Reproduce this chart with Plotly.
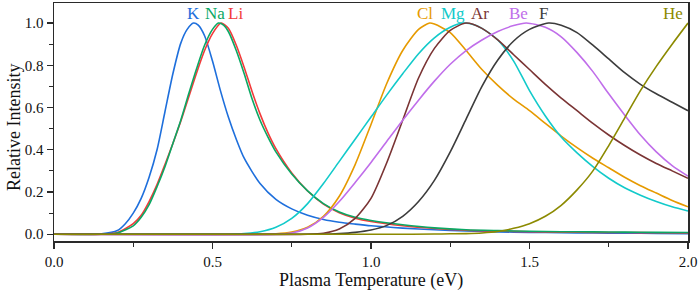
import plotly.graph_objects as go

# ---- data ----
t_k = [0.0, 0.10, 0.15, 0.20, 0.225, 0.25, 0.275, 0.30, 0.325, 0.35, 0.375, 0.40, 0.42, 0.44, 0.455, 0.475, 0.50, 0.525, 0.55, 0.575, 0.60, 0.65, 0.70, 0.75, 0.80, 0.85, 0.90, 0.95, 1.00, 1.10, 1.20, 1.30, 1.40, 1.50, 1.60, 1.70, 1.80, 1.90, 2.00]
k_val = [0, 0, 0.002, 0.018, 0.05, 0.10, 0.17, 0.27, 0.40, 0.58, 0.76, 0.905, 0.97, 1.0, 0.99, 0.94, 0.82, 0.68, 0.555, 0.45, 0.36, 0.24, 0.165, 0.12, 0.09, 0.07, 0.057, 0.048, 0.04, 0.029, 0.021, 0.015, 0.011, 0.009, 0.007, 0.006, 0.005, 0.004, 0.003]

t_li = [0.0, 0.15, 0.20, 0.25, 0.275, 0.30, 0.325, 0.35, 0.375, 0.40, 0.425, 0.45, 0.475, 0.50, 0.527, 0.55, 0.575, 0.60, 0.625, 0.65, 0.675, 0.70, 0.75, 0.80, 0.85, 0.90, 0.95, 1.00, 1.10, 1.20, 1.30, 1.40, 1.50, 1.60, 1.70, 1.80, 1.90, 2.00]
li_val = [0, 0, 0.008, 0.05, 0.09, 0.155, 0.235, 0.33, 0.43, 0.535, 0.65, 0.765, 0.87, 0.95, 1.0, 0.975, 0.895, 0.79, 0.675, 0.57, 0.48, 0.405, 0.29, 0.205, 0.143, 0.102, 0.076, 0.06, 0.04, 0.027, 0.019, 0.015, 0.012, 0.01, 0.009, 0.008, 0.007, 0.006]

t_na = [0.0, 0.15, 0.20, 0.25, 0.275, 0.30, 0.325, 0.35, 0.375, 0.40, 0.425, 0.45, 0.475, 0.50, 0.519, 0.535, 0.55, 0.575, 0.60, 0.625, 0.65, 0.675, 0.70, 0.75, 0.80, 0.85, 0.90, 0.95, 1.00, 1.10, 1.20, 1.30, 1.40, 1.50, 1.60, 1.70, 1.80, 1.90, 2.00]
na_val = [0, 0, 0.006, 0.04, 0.08, 0.14, 0.225, 0.32, 0.43, 0.54, 0.665, 0.785, 0.895, 0.97, 1.0, 0.99, 0.96, 0.87, 0.76, 0.64, 0.54, 0.46, 0.39, 0.285, 0.205, 0.145, 0.105, 0.08, 0.065, 0.045, 0.03, 0.021, 0.017, 0.014, 0.012, 0.011, 0.01, 0.009, 0.008]

t_cl = [0.0, 0.60, 0.70, 0.75, 0.80, 0.85, 0.90, 0.95, 1.00, 1.05, 1.10, 1.15, 1.185, 1.20, 1.25, 1.30, 1.35, 1.40, 1.45, 1.50, 1.55, 1.60, 1.65, 1.70, 1.75, 1.80, 1.85, 1.90, 1.95, 2.00]
cl_val = [0, 0, 0.002, 0.01, 0.033, 0.085, 0.18, 0.33, 0.52, 0.715, 0.87, 0.97, 1.0, 0.995, 0.955, 0.87, 0.78, 0.705, 0.64, 0.585, 0.525, 0.465, 0.41, 0.36, 0.315, 0.27, 0.23, 0.195, 0.16, 0.13]

t_mg = [0.0, 0.55, 0.60, 0.65, 0.70, 0.75, 0.80, 0.85, 0.90, 0.95, 1.00, 1.05, 1.10, 1.15, 1.20, 1.25, 1.29, 1.33, 1.35, 1.40, 1.45, 1.50, 1.55, 1.60, 1.65, 1.70, 1.75, 1.80, 1.85, 1.90, 1.95, 2.00]
mg_val = [0, 0, 0.003, 0.012, 0.033, 0.075, 0.145, 0.24, 0.345, 0.45, 0.555, 0.66, 0.76, 0.855, 0.93, 0.98, 1.0, 0.99, 0.975, 0.92, 0.82, 0.68, 0.56, 0.46, 0.385, 0.32, 0.265, 0.22, 0.185, 0.155, 0.13, 0.11]

t_ar = [0.0, 0.80, 0.85, 0.90, 0.95, 1.00, 1.05, 1.10, 1.15, 1.20, 1.25, 1.30, 1.35, 1.40, 1.45, 1.50, 1.55, 1.60, 1.65, 1.70, 1.75, 1.80, 1.85, 1.90, 1.95, 2.00]
ar_val = [0, 0, 0.005, 0.025, 0.075, 0.17, 0.34, 0.54, 0.74, 0.88, 0.965, 1.0, 0.975, 0.92, 0.85, 0.78, 0.71, 0.645, 0.585, 0.525, 0.47, 0.42, 0.375, 0.335, 0.30, 0.265]

t_be = [0.0, 0.70, 0.75, 0.80, 0.85, 0.90, 0.95, 1.00, 1.05, 1.10, 1.15, 1.20, 1.25, 1.30, 1.35, 1.40, 1.45, 1.49, 1.55, 1.60, 1.65, 1.70, 1.75, 1.80, 1.85, 1.90, 1.95, 2.00]
be_val = [0, 0, 0.006, 0.03, 0.08, 0.155, 0.245, 0.34, 0.44, 0.54, 0.635, 0.725, 0.805, 0.87, 0.92, 0.96, 0.988, 1.0, 0.98, 0.935, 0.86, 0.77, 0.665, 0.565, 0.47, 0.39, 0.325, 0.275]

t_f = [0.0, 0.85, 0.90, 0.95, 1.00, 1.05, 1.10, 1.15, 1.20, 1.25, 1.30, 1.35, 1.40, 1.45, 1.50, 1.56, 1.60, 1.65, 1.70, 1.75, 1.80, 1.85, 1.90, 1.95, 2.00]
f_val = [0, 0, 0.003, 0.009, 0.02, 0.042, 0.085, 0.155, 0.255, 0.39, 0.545, 0.70, 0.825, 0.915, 0.97, 1.0, 0.99, 0.955, 0.895, 0.83, 0.765, 0.71, 0.665, 0.625, 0.585]

t_he = [0.0, 1.10, 1.20, 1.25, 1.30, 1.35, 1.40, 1.45, 1.50, 1.55, 1.60, 1.65, 1.70, 1.75, 1.80, 1.85, 1.90, 1.95, 2.00]
he_val = [0, 0, 0.001, 0.002, 0.003, 0.006, 0.013, 0.028, 0.05, 0.085, 0.137, 0.21, 0.30, 0.42, 0.55, 0.68, 0.795, 0.90, 1.0]

names = ["K", "Li", "Na", "Cl", "Mg", "Ar", "Be", "F", "He"]
colors = {"K": "#1E6FDC", "Na": "#0AA864", "Li": "#F23A3A", "Cl": "#E69A00",
          "Mg": "#12CACA", "Ar": "#7A3434", "Be": "#C06EEA", "F": "#3C3C3C", "He": "#8C8A00"}
series = {"K": (t_k, k_val), "Li": (t_li, li_val), "Na": (t_na, na_val), "Cl": (t_cl, cl_val),
          "Mg": (t_mg, mg_val), "Ar": (t_ar, ar_val), "Be": (t_be, be_val), "F": (t_f, f_val),
          "He": (t_he, he_val)}

label_names = ["K", "Na", "Li", "Cl", "Mg", "Ar", "Be", "F", "He"]
label_x = [0.44, 0.508, 0.574, 1.170, 1.260, 1.344, 1.465, 1.544, 1.952]
label_y = 1.046

x_title = "Plasma Temperature (eV)"
y_title = "Relative Intensity"

FONT = "Liberation Serif, Times New Roman, serif"

fig = go.Figure()
for n in names:
    t, v = series[n]
    fig.add_trace(go.Scatter(x=t, y=v, mode="lines", name=n,
                             line=dict(color=colors[n], width=1.6, shape="spline", smoothing=0.7),
                             showlegend=False, hoverinfo="skip"))

for n, lx in zip(label_names, label_x):
    fig.add_annotation(x=lx, y=label_y, xref="x", yref="y", text=n, showarrow=False,
                       font=dict(family=FONT, size=17, color=colors[n]))

fig.add_annotation(x=0.5, y=-0.168, xref="paper", yref="paper", text=x_title, showarrow=False,
                   xanchor="center", yanchor="middle", font=dict(family=FONT, size=18, color="#111"))
fig.add_annotation(x=-0.063, y=0.475, xref="paper", yref="paper", text=y_title, showarrow=False,
                   textangle=-90, xanchor="center", yanchor="middle",
                   font=dict(family=FONT, size=18, color="#111"))

axis_common = dict(showgrid=False, zeroline=False, showline=True, linecolor="#2a2a2a",
                   linewidth=1.5, mirror=True, ticks="outside", ticklen=6, tickwidth=1.3,
                   tickcolor="#2a2a2a", automargin=False,
                   tickfont=dict(family=FONT, size=15, color="#111"))

fig.update_xaxes(range=[0, 2.0], tick0=0, dtick=0.5, tickformat=".1f",
                 minor=dict(ticks="outside", dtick=0.25, ticklen=4, tickwidth=1.2, tickcolor="#2a2a2a"),
                 **axis_common)
fig.update_yaxes(range=[-0.032, 1.095], tick0=0, dtick=0.2, tickformat=".1f",
                 minor=dict(ticks="outside", dtick=0.1, ticklen=4, tickwidth=1.2, tickcolor="#2a2a2a"),
                 **axis_common)

fig.update_layout(width=699, height=293, margin=dict(l=54, r=11, t=3, b=52),
                  plot_bgcolor="white", paper_bgcolor="white", hovermode=False)

fig.write_html("out.html", config={"displayModeBar": False, "staticPlot": True},
               post_script="document.body.style.margin='0';document.body.style.padding='0';")
